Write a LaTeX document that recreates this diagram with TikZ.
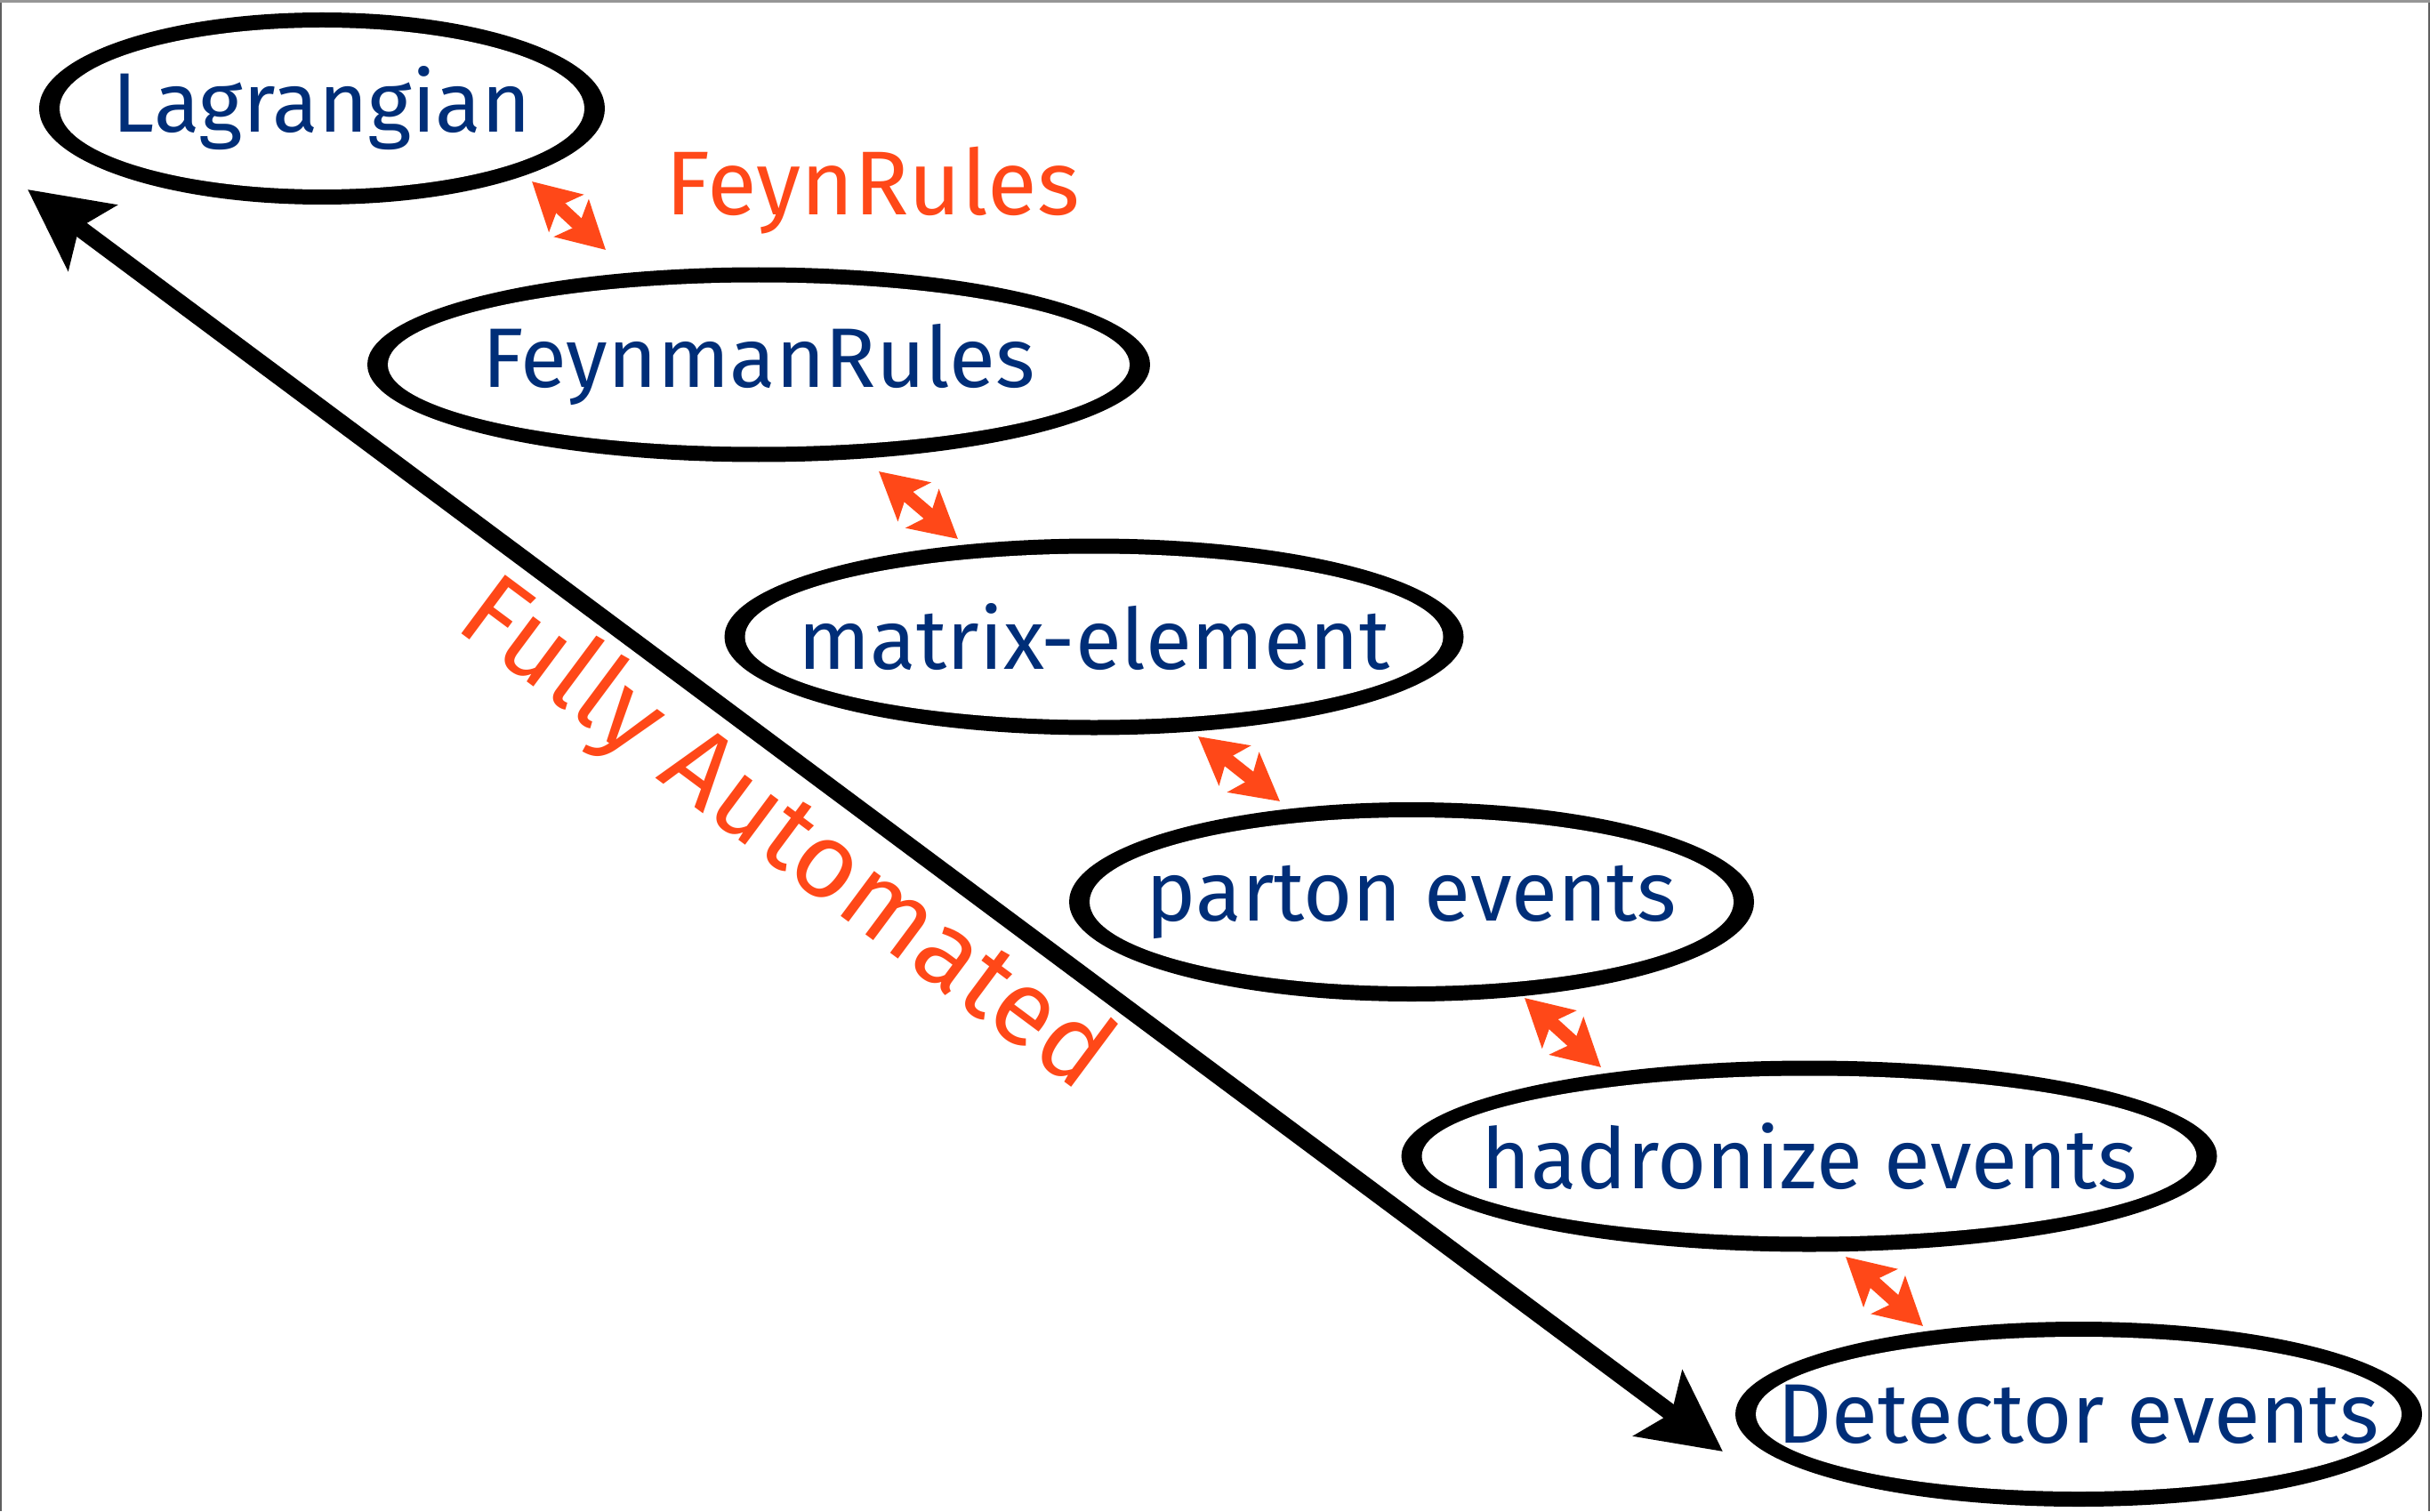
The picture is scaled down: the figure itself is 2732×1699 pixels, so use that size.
\documentclass[tikz,border=0pt]{standalone}
\usepackage{fontspec}
\setmainfont{Fira Sans}
\usetikzlibrary{shapes.geometric, arrows.meta, positioning, calc}

\definecolor{stageblue}{RGB}{0,46,120}
\definecolor{ruleorange}{RGB}{255,72,24}
\definecolor{framegray}{RGB}{150,150,150}
\definecolor{sidegray}{RGB}{95,95,95}

\begin{document}
\begin{tikzpicture}[x=0.1mm, y=-0.1mm, font=\fontsize{27}{29}\selectfont,
    stage/.style n args={3}{ellipse, fill=black, inner sep=0pt,
        minimum width=#1, minimum height=#2, label={[text=stageblue]center:#3},
        path picture={\fill[white, rotate around={-3:(path picture bounding box.center)}]
            (path picture bounding box.center) ellipse [x radius=#1/2-2.3mm, y radius=#2/2-1.7mm];}},
    link/.style={{Stealth[length=5.2mm, width=5.6mm, inset=1.1mm]}-{Stealth[length=5.2mm, width=5.6mm, inset=1.1mm]},
        line width=1.5mm, draw=ruleorange},
    bigarrow/.style={{Stealth[length=9mm, width=9mm, inset=1.8mm]}-{Stealth[length=9mm, width=9mm, inset=1.8mm]},
        line width=1.9mm, draw=black},
    tag/.style={text=ruleorange, inner sep=0pt}]
				\useasboundingbox (0,0) rectangle (2732,1699);
				\draw[sidegray, line width=0.4mm] (0,1699) -- (0,0);
				\draw[sidegray, line width=0.4mm] (2732,0) -- (2732,1699);
				\draw[framegray, line width=0.6mm] (0,0) -- (2732,0);
				
				\node[stage={63.6mm}{21.6mm}{Lagrangian}] (lag) at (362,122) {};
				\node[stage={88.0mm}{21.9mm}{FeynmanRules}] (feyn) at (853,410) {};
				\node[stage={83.1mm}{22.1mm}{matrix-element}] (mat) at (1230,716) {};
				\node[stage={77.0mm}{22.4mm}{parton events}] (part) at (1587,1014) {};
				\node[stage={91.7mm}{21.5mm}{hadronize events}] (hadr) at (2034,1300) {};
				\node[stage={77.2mm}{20.8mm}{Detector events}] (det) at (2337,1590) {};
				
				\node[tag, font=\fontsize{29}{31}\selectfont] (fr) at (981,214) {FeynRules};
				
				\draw[link] ([shift={(236,82)}]lag.center) -- ([shift={(-172,-129)}]feyn.center);
				\draw[link] ([shift={(135,120)}]feyn.center) -- ([shift={(-153,-110)}]mat.center);
				\draw[link] ([shift={(117,112)}]mat.center) -- ([shift={(-148,-113)}]part.center);
				\draw[link] ([shift={(127,108)}]part.center) -- ([shift={(-234,-100)}]hadr.center);
				\draw[link] ([shift={(41,113)}]hadr.center) -- ([shift={(-175,-99)}]det.center);
				
				\coordinate (start) at (31,213);
				\coordinate (stop) at (1937,1632);
				\draw[bigarrow] (start) -- node[tag, pos=0.47, sloped, below=1mm, font=\fontsize{34}{36}\selectfont] (auto) {Fully Automated} (stop);
			\end{tikzpicture}
\end{document}
